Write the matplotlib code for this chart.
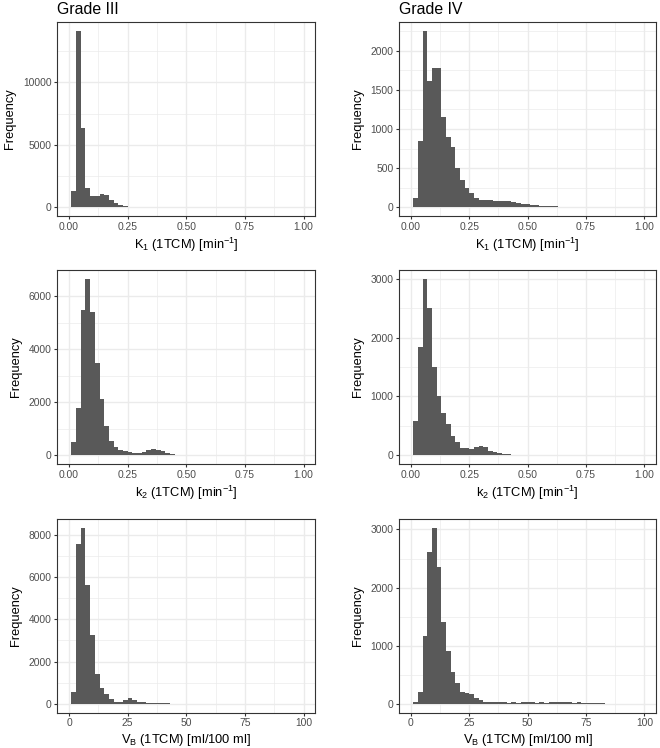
import matplotlib
matplotlib.use('Agg')
import matplotlib.pyplot as plt
import numpy as np
from matplotlib.ticker import MultipleLocator, FormatStrFormatter

plt.rcParams['font.family'] = ['Liberation Sans', 'DejaVu Sans']
plt.rcParams['mathtext.fontset'] = 'custom'
plt.rcParams['mathtext.rm'] = 'Liberation Sans'
plt.rcParams['mathtext.it'] = 'Liberation Sans:italic'
plt.rcParams['mathtext.bf'] = 'Liberation Sans:bold'

# histogram counts, bins of width 0.02 (rates) / 2 (blood volume), first edge 0.01 / 1
k1_g3 = [1320, 14130, 6320, 1560, 920, 920, 1090, 1000, 613, 360, 187, 65, 25, 8, 4, 2, 1]
k1_g4 = [119, 851, 2255, 1613, 1783, 1783, 1153, 898, 775, 498, 349, 243, 187, 123, 98,
         89, 89, 85, 81, 77, 77, 60, 50, 42, 36, 30, 25, 20, 15, 11, 9, 7, 5, 4, 3, 3,
         2, 2, 1, 1, 1]
k2_g3 = [480, 1786, 5472, 6660, 5390, 3465, 2126, 1120, 547, 314, 201, 155, 130, 95, 75,
         120, 189, 218, 195, 145, 75, 30, 15, 10, 8, 6, 5, 5, 4, 4, 3, 3, 2, 2, 2, 1, 1, 1]
k2_g4 = [577, 1845, 2999, 2496, 1500, 1002, 713, 538, 328, 221, 130, 125, 113, 141, 158,
         141, 74, 51, 34, 23, 17, 11, 8, 6, 5, 4, 4, 3, 3, 2, 2, 2, 2, 1, 1, 1, 1, 1, 1,
         1, 1, 1, 1, 1, 1]
vb_g3 = [566, 7591, 8340, 5620, 3269, 1390, 750, 450, 225, 100, 79, 180, 251, 175, 94,
         63, 47, 31, 24, 16, 10, 6, 4, 3, 2, 2, 1, 1]
vb_g4 = [23, 205, 1169, 2613, 3029, 2357, 1409, 901, 553, 359, 194, 188, 165, 103, 63,
         34, 29, 27, 22, 25, 20, 24, 19, 23, 21, 26, 18, 24, 20, 25, 22, 27, 21, 26, 19,
         23, 17, 8, 6, 5, 4, 3, 2, 2, 1, 1]

titles = ['Grade III', 'Grade IV']
xlabels = [r'K$_\mathregular{1}$ (1TCM) [min$^\mathregular{-1}$]',
           r'k$_\mathregular{2}$ (1TCM) [min$^\mathregular{-1}$]',
           r'V$_\mathregular{B}$ (1TCM) [ml/100 ml]']

rows = [(k1_g3, k1_g4), (k2_g3, k2_g4), (vb_g3, vb_g4)]
bin_start = [0.01, 0.01, 1.0]
bin_width = [0.02, 0.02, 2.0]
x_max = [1.0, 1.0, 100.0]
y_step = [(5000, 500), (2000, 1000), (2000, 1000)]

W, H = 660, 748
fig = plt.figure(figsize=(W / 100, H / 100), dpi=100)

col_x = [(57.3, 315.3), (399.3, 656.0)]
row_y = [(22, 216), (270, 464), (519, 712.5)]

bar_col = '#595959'
grid_col = '#EBEBEB'
dark = '#333333'

for r in range(3):
    for c in range(2):
        l, rr = col_x[c]
        t, b = row_y[r]
        ax = fig.add_axes([l / W, 1 - b / H, (rr - l) / W, (b - t) / H])
        counts = np.array(rows[r][c], dtype=float)
        edges = bin_start[r] + bin_width[r] * np.arange(len(counts) + 1)
        ax.stairs(counts, edges, fill=True, color=bar_col, linewidth=0, zorder=2)

        xm = x_max[r]
        ax.set_xlim(-0.05 * xm, 1.05 * xm)
        top = counts.max()
        ax.set_ylim(-0.05 * top, 1.05 * top)

        ax.xaxis.set_major_locator(MultipleLocator(xm / 4))
        ax.xaxis.set_minor_locator(MultipleLocator(xm / 8))
        if r < 2:
            ax.xaxis.set_major_formatter(FormatStrFormatter('%.2f'))
        else:
            ax.xaxis.set_major_formatter(FormatStrFormatter('%d'))
        st = y_step[r][c]
        ax.yaxis.set_major_locator(MultipleLocator(st))
        ax.yaxis.set_minor_locator(MultipleLocator(st / 2))
        ax.yaxis.set_major_formatter(FormatStrFormatter('%d'))

        ax.grid(True, which='major', color=grid_col, linewidth=1.0, zorder=0)
        ax.grid(True, which='minor', color=grid_col, linewidth=0.5, zorder=0)
        ax.set_axisbelow(True)
        for s in ax.spines.values():
            s.set_color(dark)
            s.set_linewidth(0.8)
        ax.tick_params(which='major', length=2.2, width=0.8, color=dark,
                       labelcolor='#4D4D4D', labelsize=7.4, pad=2)
        ax.tick_params(which='minor', length=0)

        ax.set_xlabel(xlabels[r], fontsize=9.3, labelpad=3)
        ax.set_ylabel('Frequency', fontsize=9.3, labelpad=5)
        if r == 0:
            ax.set_title(titles[c], loc='left', fontsize=11.4, pad=5.5)

fig.savefig('out.png', dpi=100)
